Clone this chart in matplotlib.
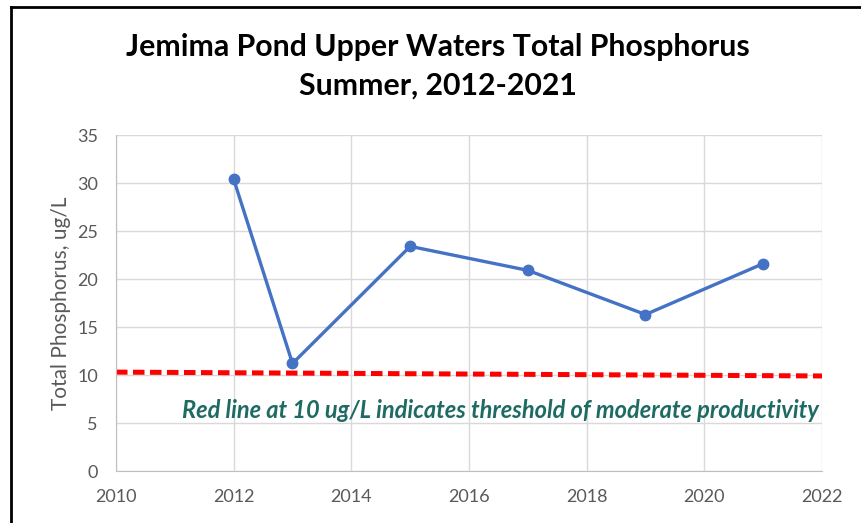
import matplotlib
matplotlib.use('Agg')
import matplotlib.pyplot as plt
from matplotlib.lines import Line2D

# summer total phosphorus, upper waters
years = [2012, 2013, 2015, 2017, 2019, 2021]
phos = [30.4, 11.2, 23.4, 20.9, 16.3, 21.6]

# threshold line as drawn (slightly sloped in the original)
thr_x = [2010, 2022]
thr_y = [10.3, 9.9]

xticks = [2010, 2012, 2014, 2016, 2018, 2020, 2022]
yticks = [0, 5, 10, 15, 20, 25, 30, 35]

plt.rcParams['font.family'] = ['Lato', 'DejaVu Sans']

fig = plt.figure(figsize=(8.62, 5.23), dpi=100)
ax = fig.add_axes([116/862, 1-471/523, 706/862, 336/523])

ax.plot(thr_x, thr_y, color='#FF0000', lw=3.6, ls=(0, (2.3, 1.1)), zorder=2)
ax.plot(years, phos, color='#4472C4', lw=2.4, marker='o', ms=7.5, zorder=3)

ax.set_xlim(2010, 2022)
ax.set_ylim(0, 35)
ax.set_xticks(xticks)
ax.set_yticks(yticks)
ax.grid(True, color='#D9D9D9', lw=1)
ax.set_axisbelow(True)
for s in ['top', 'right']:
    ax.spines[s].set_visible(False)
for s in ['left', 'bottom']:
    ax.spines[s].set_color('#BFBFBF')
ax.tick_params(length=0, labelsize=13, labelcolor='#595959')
ax.tick_params(axis='y', pad=13)
ax.tick_params(axis='x', pad=13)
ax.set_ylabel('Total Phosphorus, ug/L', fontsize=15, color='#595959', labelpad=4)

ax.text(0.995, 0.18, 'Red line at 10 ug/L indicates threshold of moderate productivity',
        transform=ax.transAxes, ha='right', va='center', fontsize=17,
        fontweight='bold', fontstyle='italic', color='#1E6B63')

fig.text(438/862, 1-47/523, 'Jemima Pond Upper Waters Total Phosphorus',
         ha='center', va='center', fontsize=21.8, fontweight='bold', color='#000000')
fig.text(438/862, 1-86/523, 'Summer, 2012-2021',
         ha='center', va='center', fontsize=21.8, fontweight='bold', color='#000000')

# outer frame (top and left visible in the crop)
fig.add_artist(Line2D([11/862, 11/862], [0, 1-7/523], color='black', lw=2, transform=fig.transFigure))
fig.add_artist(Line2D([11/862, 1], [1-7/523, 1-7/523], color='black', lw=2, transform=fig.transFigure))

fig.savefig('out.png', dpi=100)
